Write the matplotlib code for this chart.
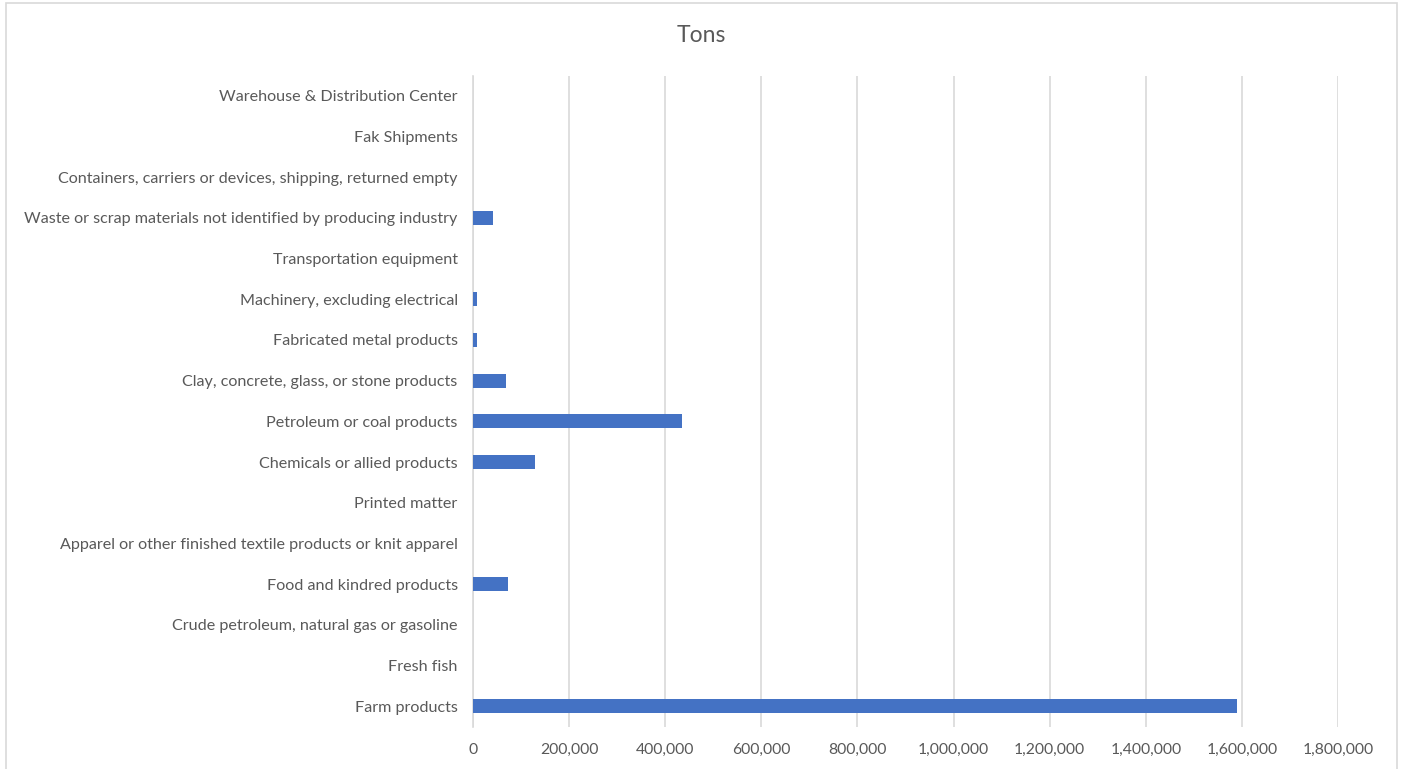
"""Horizontal bar chart of tons by commodity."""

import matplotlib.pyplot as plt
from matplotlib.patches import Rectangle
from matplotlib.ticker import FuncFormatter

categories = [
    "Farm products",
    "Fresh fish",
    "Crude petroleum, natural gas or gasoline",
    "Food and kindred products",
    "Apparel or other finished textile products or knit apparel",
    "Printed matter",
    "Chemicals or allied products",
    "Petroleum or coal products",
    "Clay, concrete, glass, or stone products",
    "Fabricated metal products",
    "Machinery, excluding electrical",
    "Transportation equipment",
    "Waste or scrap materials not identified by producing industry",
    "Containers, carriers or devices, shipping, returned empty",
    "Fak Shipments",
    "Warehouse & Distribution Center",
]
tons = [1590000, 0, 0, 73500, 0, 0, 130000, 434000, 68000, 7500, 7700, 0, 42000, 0, 0, 0]
x_ticks = list(range(0, 1800001, 200000))

TEXT = "#595959"
GRID = "#D9D9D9"
BAR = "#4472C4"

plt.rcParams["font.family"] = ["Lato", "DejaVu Sans"]

W, H = 1405, 769
fig = plt.figure(figsize=(W / 100, H / 100), dpi=100)
ax = fig.add_axes([473 / W, 1 - 726.5 / H, (1338 - 473) / W, (726.5 - 75.5) / H])

y = list(range(len(categories)))
ax.barh(y, tons, height=0.35, color=BAR, zorder=3)

ax.set_ylim(-0.5, len(categories) - 0.5)
ax.set_xlim(0, 1800000)
ax.set_xticks(x_ticks)
ax.xaxis.set_major_formatter(FuncFormatter(lambda v, _: f"{int(v):,}"))
ax.set_yticks(y)
ax.set_yticklabels(categories)

ax.grid(axis="x", color=GRID, lw=1.2, zorder=0)
for s in ["top", "right", "bottom"]:
    ax.spines[s].set_visible(False)
ax.spines["left"].set_color(GRID)
ax.spines["left"].set_linewidth(1.2)
ax.tick_params(axis="both", length=0, colors=TEXT)
ax.tick_params(axis="y", pad=11, labelsize=11.6)
ax.tick_params(axis="x", pad=12, labelsize=11.3)

fig.text(701 / W, 1 - 36 / H, "Tons", ha="center", va="center", fontsize=16.5, color=TEXT)

fig.patches.append(Rectangle((6 / W, -0.02), (1397 - 6) / W, 1 - 3 / H + 0.02,
                             transform=fig.transFigure, fill=False, edgecolor=GRID, lw=1.2))

fig.savefig("out.png", dpi=100)
